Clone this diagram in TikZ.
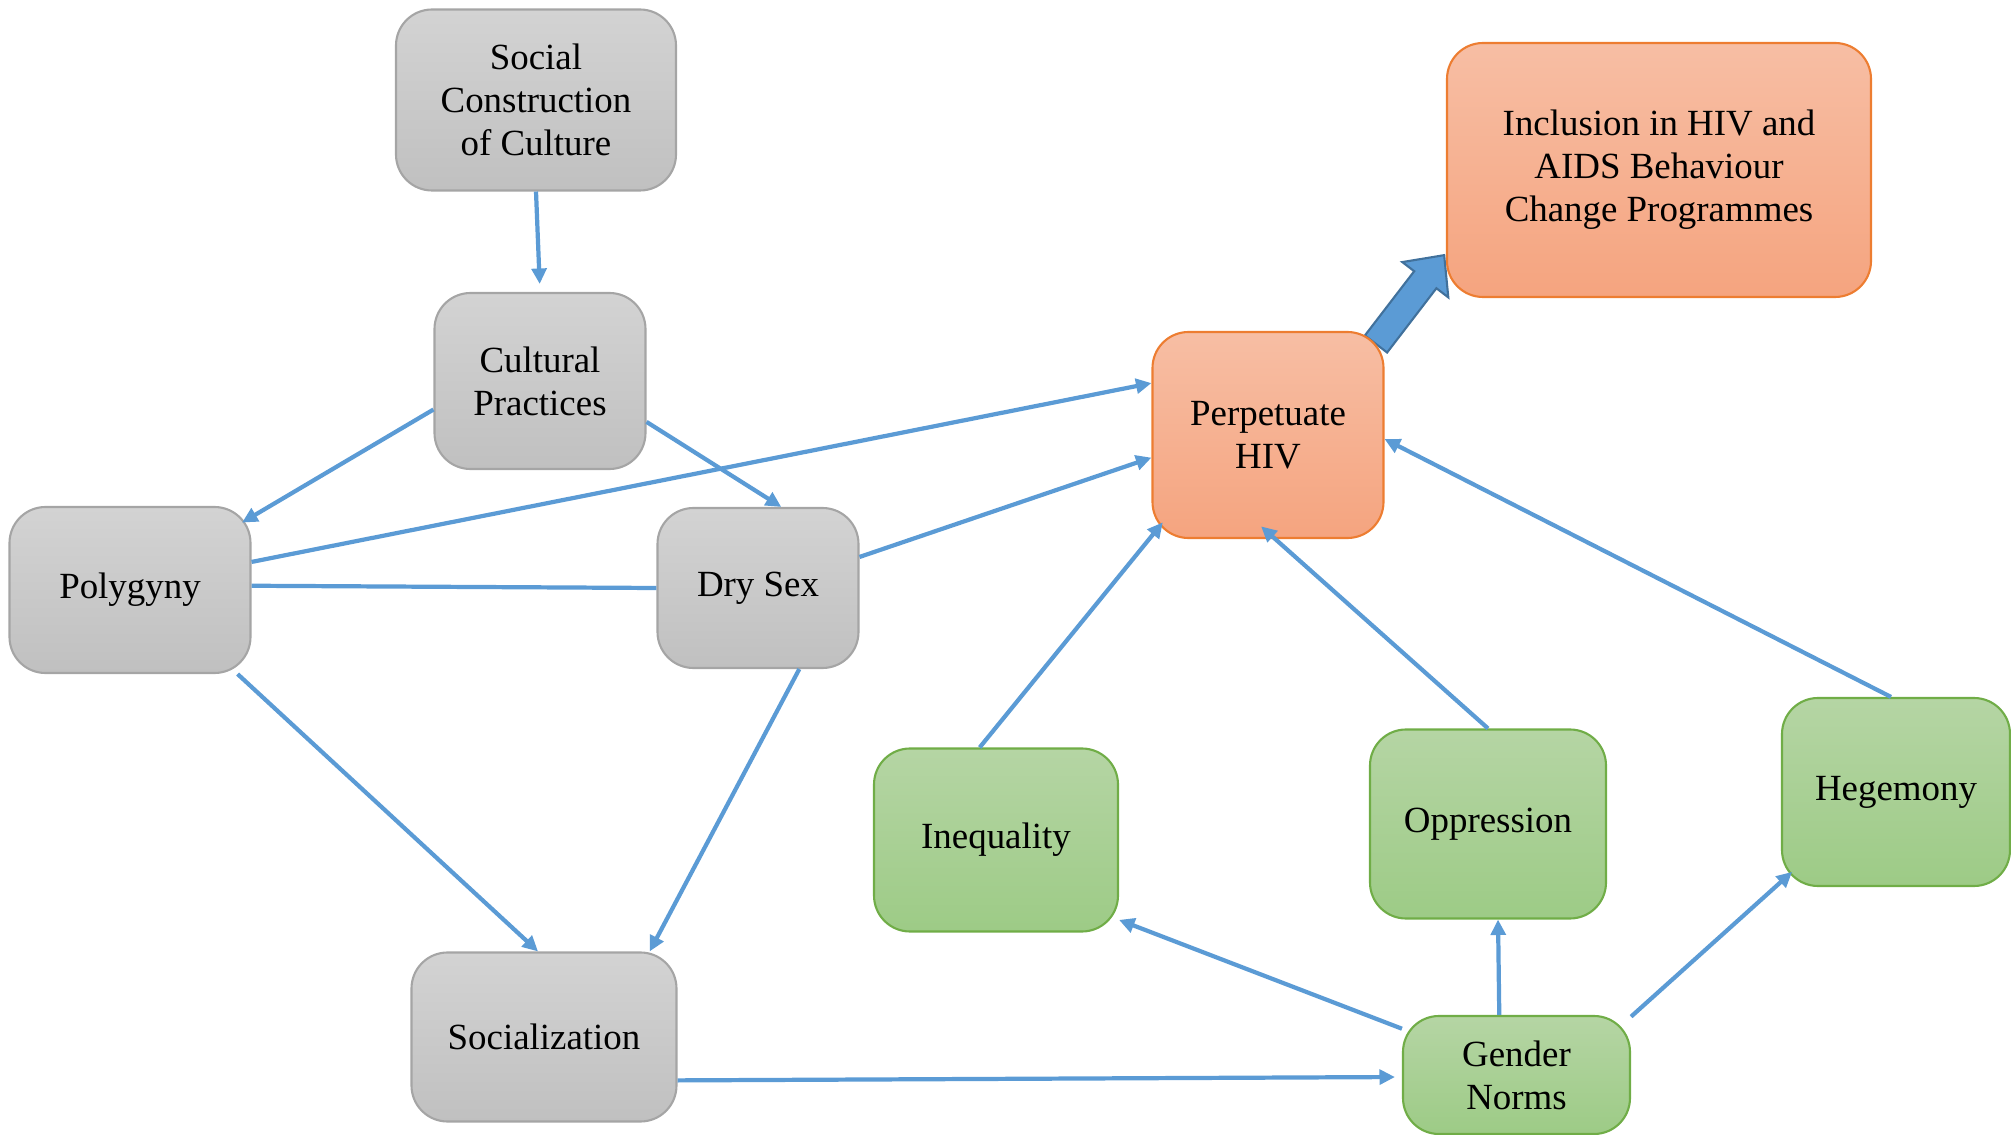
\documentclass[tikz,border=0pt]{standalone}
\usepackage{fontspec}
\setmainfont{Liberation Serif}
\usetikzlibrary{arrows.meta,backgrounds}

\definecolor{greytop}{HTML}{D3D3D3}
\definecolor{greybot}{HTML}{C0C0C0}
\definecolor{greyline}{HTML}{A5A5A5}
\definecolor{peachtop}{HTML}{F7BEA4}
\definecolor{peachbot}{HTML}{F5A47F}
\definecolor{peachline}{HTML}{ED7D31}
\definecolor{leaftop}{HTML}{B5D5A4}
\definecolor{leafbot}{HTML}{9DCB86}
\definecolor{leafline}{HTML}{70AD47}
\definecolor{linkblue}{HTML}{5B9BD5}
\definecolor{linkdark}{HTML}{41719C}

\begin{document}
\begin{tikzpicture}[
  cbox/.style={rounded corners=3.6mm,line width=0.6pt,align=center,inner sep=1pt,
               font=\fontsize{10.5}{12.2}\selectfont},
  greybox/.style={cbox,draw=greyline,top color=greytop,bottom color=greybot},
  peachbox/.style={cbox,draw=peachline,top color=peachtop,bottom color=peachbot},
  leafbox/.style={cbox,draw=leafline,top color=leaftop,bottom color=leafbot},
  link/.style={draw=linkblue,line width=1.2pt,-{Triangle[length=4.4pt,width=4.2pt]}},
  tie/.style={draw=linkblue,line width=1.2pt}]
  \useasboundingbox (0,0) rectangle (20.11,-11.35);

  % Cultural side (grey)
  \node[greybox,minimum width=2.80cm,minimum height=1.81cm] (social) at (5.36,-1.00)
    {Social\\Construction\\of Culture};
  \node[greybox,minimum width=2.11cm,minimum height=1.76cm] (cult) at (5.40,-3.81)
    {Cultural\\Practices};
  \node[greybox,minimum width=2.41cm,minimum height=1.66cm] (poly) at (1.30,-5.90) {Polygyny};
  \node[greybox,minimum width=2.01cm,minimum height=1.60cm] (dry) at (7.58,-5.88) {Dry Sex};
  \node[greybox,minimum width=2.65cm,minimum height=1.69cm] (soc) at (5.44,-10.37) {Socialization};

  % Outcome (orange)
  \node[peachbox,minimum width=2.31cm,minimum height=2.06cm] (perp) at (12.68,-4.35)
    {Perpetuate\\HIV};
  \node[peachbox,minimum width=4.24cm,minimum height=2.54cm] (incl) at (16.59,-1.70)
    {Inclusion in HIV and\\AIDS Behaviour\\Change Programmes};

  % Gender side (green)
  \node[leafbox,minimum width=2.44cm,minimum height=1.83cm] (ineq) at (9.96,-8.40) {Inequality};
  \node[leafbox,minimum width=2.36cm,minimum height=1.89cm] (opp) at (14.88,-8.24) {Oppression};
  \node[leafbox,minimum width=2.28cm,minimum height=1.88cm] (heg) at (18.96,-7.92) {Hegemony};
  \node[leafbox,minimum width=2.27cm,minimum height=1.18cm] (gn) at (15.165,-10.75)
    {Gender\\Norms};

  % Connectors
  \draw[link,shorten >=0.8mm] (social.south) -- (cult.north);
  \draw[link,shorten >=-1.1mm] (cult.195.7) -- (poly.31.4);
  \draw[link] (cult.-21.5) -- (dry.74.6);
  \draw[link] (poly.13) -- (perp.156.7);
  \draw[tie] (poly.2) -- (dry.west);
  \draw[link] (dry.17) -- (perp.191.5);
  \draw[link] (poly.-38) -- (soc.94.7);
  \draw[link] (dry.-63) -- (soc.39.6);
  \draw[link,shorten >=0.7mm] (soc.-18) -- (gn.181);
  \draw[link] (gn.158) -- (ineq.-33.5);
  \draw[link] (gn.106) -- (opp.-84);
  \draw[link,shorten >=-1.5mm] (gn.27.3) -- (heg.218.8);
  \draw[link,shorten >=-1.8mm] (ineq.100) -- (perp.221.4);
  \draw[link,shorten >=-1.9mm] (opp.north) -- (perp.-86);
  \draw[link] (heg.93) -- (perp.-2.5);

  % Block arrow towards the programmes box
  \begin{scope}[on background layer]
    \draw[linkdark,fill=linkblue,line width=0.6pt,shift={(13.76,-3.44)},rotate=52.5]
      (0,-0.14) -- (0.81,-0.14) -- (0.81,-0.29) -- (1.12,0) -- (0.81,0.29)
      -- (0.81,0.14) -- (0,0.14) -- cycle;
  \end{scope}
\end{tikzpicture}
\end{document}
